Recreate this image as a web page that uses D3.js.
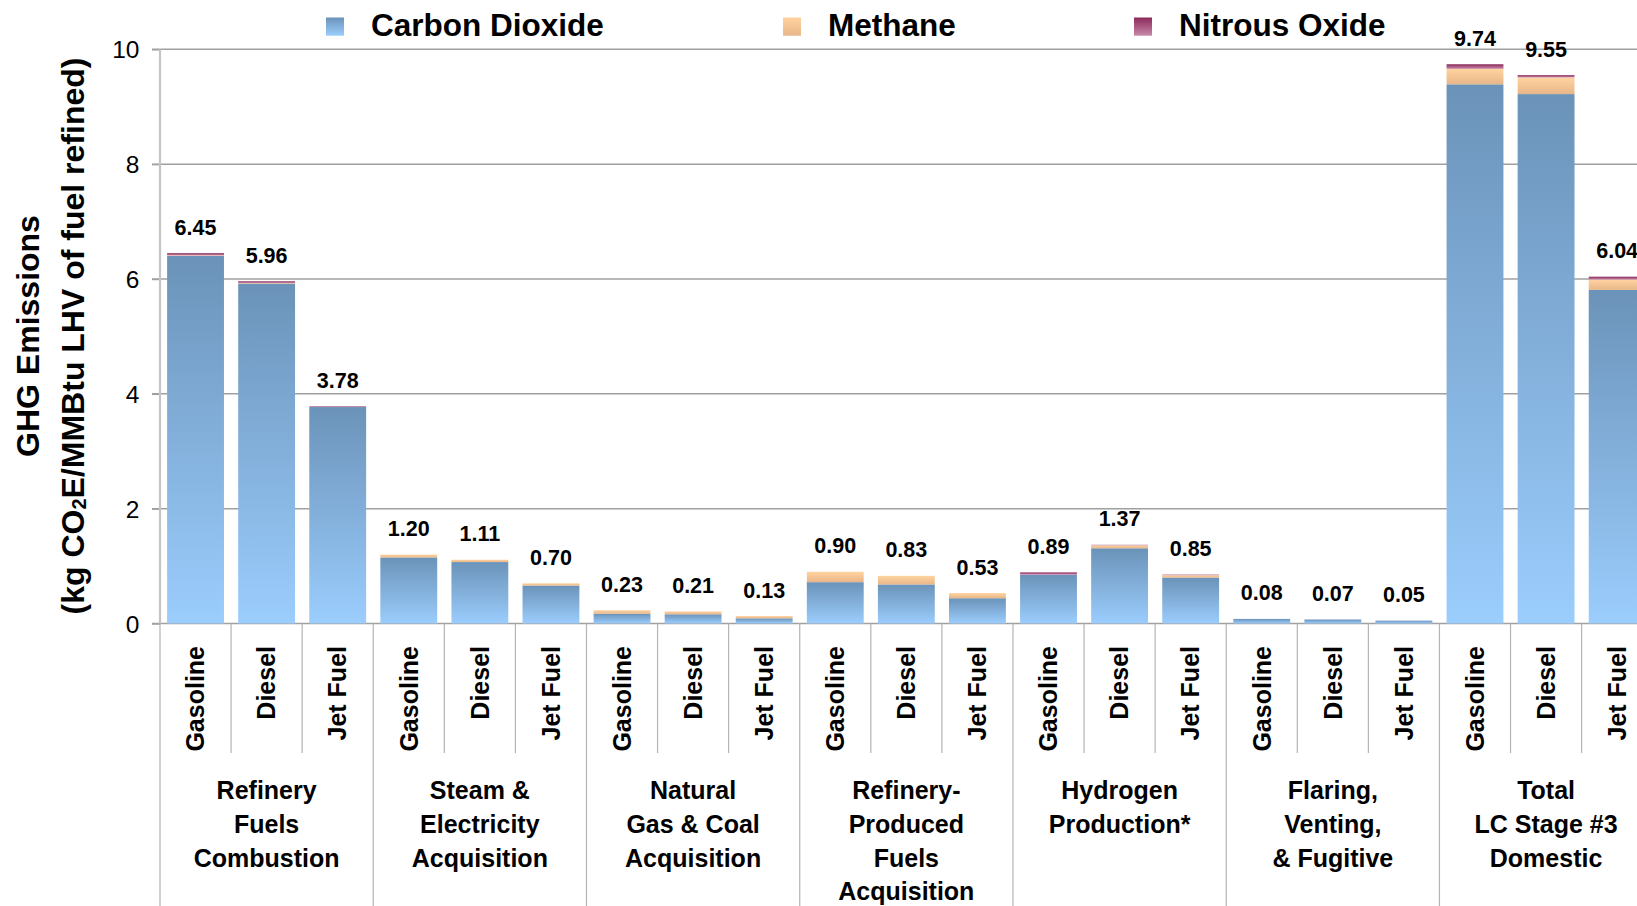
<!DOCTYPE html>
<html>
<head>
<meta charset="utf-8">
<script src="https://cdn.jsdelivr.net/npm/d3@7"></script>
<style>
  html, body { margin: 0; padding: 0; background: #fff; overflow: hidden; }
  svg { display: block; font-family: "Liberation Sans", Arial, sans-serif; }
</style>
</head>
<body>
<svg id="chart" width="1637" height="906"></svg>
<script>
// ---- data ----
const groups = [
  ["Refinery", "Fuels", "Combustion"],
  ["Steam &", "Electricity", "Acquisition"],
  ["Natural", "Gas & Coal", "Acquisition"],
  ["Refinery-", "Produced", "Fuels", "Acquisition"],
  ["Hydrogen", "Production*"],
  ["Flaring,", "Venting,", "& Fugitive"],
  ["Total", "LC Stage #3", "Domestic"]
];
const fuels = ["Gasoline", "Diesel", "Jet Fuel"];
const seriesNames = ["Carbon Dioxide", "Methane", "Nitrous Oxide"];
const co2 = [6.40, 5.92, 3.77, 1.15, 1.07, 0.66, 0.17, 0.16, 0.09, 0.72, 0.68, 0.44, 0.85, 1.31, 0.80, 0.08, 0.07, 0.05, 9.39, 9.22, 5.81];
const ch4 = [0.01, 0.01, 0.00, 0.05, 0.04, 0.04, 0.06, 0.05, 0.04, 0.18, 0.15, 0.09, 0.00, 0.05, 0.04, 0.00, 0.00, 0.00, 0.27, 0.29, 0.18];
const n2o = [0.04, 0.03, 0.01, 0.00, 0.00, 0.00, 0.00, 0.00, 0.00, 0.00, 0.00, 0.00, 0.04, 0.01, 0.01, 0.00, 0.00, 0.00, 0.08, 0.04, 0.05];
const totalLabels = ["6.45", "5.96", "3.78", "1.20", "1.11", "0.70", "0.23", "0.21", "0.13", "0.90", "0.83", "0.53", "0.89", "1.37", "0.85", "0.08", "0.07", "0.05", "9.74", "9.55", "6.04"];
const yTicks = [0, 2, 4, 6, 8, 10];

// ---- layout ----
const svg = d3.select("#chart");
const x0 = 160, xEnd = 1652.7, yTop = 49.3, yBase = 623.5;

const table = co2.map((c, i) => ({
  id: i,
  group: Math.floor(i / 3),
  fuel: fuels[i % 3],
  "Carbon Dioxide": c,
  "Methane": ch4[i],
  "Nitrous Oxide": n2o[i],
  label: totalLabels[i]
}));

const x = d3.scaleBand().domain(table.map(d => d.id)).range([x0, xEnd]).paddingInner(0.2).paddingOuter(0.1);
const y = d3.scaleLinear().domain([0, 10]).range([yBase, yTop]);
const step = x.step();

// gradients
const defs = svg.append("defs");
const grads = {
  "Carbon Dioxide": ["#6b93b9", "#9bcdfd"],
  "Methane": ["#ffd3a0", "#e8b689"],
  "Nitrous Oxide": ["#8a2a5a", "#c988aa"]
};
seriesNames.forEach((k, i) => {
  const g = defs.append("linearGradient").attr("id", "g" + i)
    .attr("x1", 0).attr("y1", 0).attr("x2", 0).attr("y2", 1);
  g.append("stop").attr("offset", "0%").attr("stop-color", grads[k][0]);
  g.append("stop").attr("offset", "100%").attr("stop-color", grads[k][1]);
});

// gridlines
svg.append("g").selectAll("line").data(yTicks.filter(t => t > 0)).join("line")
  .attr("x1", x0 - 8).attr("x2", 1637).attr("y1", d => y(d)).attr("y2", d => y(d))
  .attr("stroke", "#a0a0a0").attr("stroke-width", 1.5);

// y axis
const yAxis = d3.axisLeft(y).tickValues(yTicks).tickSize(8).tickPadding(12).tickFormat(d3.format("d"));
const ya = svg.append("g").attr("transform", `translate(${x0},0)`).call(yAxis);
ya.select(".domain").remove();
ya.selectAll(".tick line").attr("stroke", "#a0a0a0").attr("stroke-width", 1.5);
ya.selectAll(".tick text").attr("font-size", 24.5).attr("fill", "#000")
  .attr("font-family", "Liberation Sans, Arial, sans-serif").attr("dy", "0.35em").attr("x", -20.5);

// x baseline
svg.append("line").attr("x1", x0 - 8).attr("x2", 1637).attr("y1", yBase).attr("y2", yBase)
  .attr("stroke", "#a0a0a0").attr("stroke-width", 1.5);

// category separators
const bounds = d3.range(0, 22);
svg.append("g").selectAll("line").data(bounds).join("line")
  .attr("x1", i => x0 + i * step).attr("x2", i => x0 + i * step)
  .attr("y1", yBase).attr("y2", i => (i % 3 === 0) ? 906 : 753)
  .attr("stroke", "#b4b4b4").attr("stroke-width", 1.2);

// y axis line
svg.append("line").attr("x1", x0).attr("x2", x0).attr("y1", yTop).attr("y2", yBase)
  .attr("stroke", "#c4c4c4").attr("stroke-width", 2.2);

// stacked bars
const stack = d3.stack().keys(seriesNames);
const layers = stack(table);
svg.append("g").selectAll("g").data(layers).join("g")
  .attr("fill", (d, i) => `url(#g${i})`)
  .selectAll("rect").data(d => d.filter(s => s[1] - s[0] > 0)).join("rect")
  .attr("x", d => x(d.data.id))
  .attr("width", x.bandwidth())
  .attr("y", d => y(d[1]))
  .attr("height", d => y(d[0]) - y(d[1]));

// value labels
svg.append("g").selectAll("text").data(table).join("text")
  .attr("x", d => x(d.id) + x.bandwidth() / 2)
  .attr("y", d => y(d["Carbon Dioxide"] + d["Methane"] + d["Nitrous Oxide"]) - 18.5)
  .attr("text-anchor", "middle").attr("font-weight", "bold").attr("font-size", 21.5)
  .attr("fill", "#000").text(d => d.label);

// fuel labels (rotated)
svg.append("g").selectAll("text").data(table).join("text")
  .attr("transform", d => `translate(${x(d.id) + x.bandwidth() / 2},646) rotate(-90)`)
  .attr("text-anchor", "end").attr("dy", "0.35em")
  .attr("font-weight", "bold").attr("font-size", 25).attr("fill", "#000")
  .text(d => d.fuel);

// group labels
const gl = svg.append("g").selectAll("text").data(groups).join("text")
  .attr("text-anchor", "middle").attr("font-weight", "bold").attr("font-size", 25).attr("fill", "#000");
gl.each(function(lines, gi) {
  const cx = x0 + (gi * 3 + 1.5) * step;
  d3.select(this).selectAll("tspan").data(lines).join("tspan")
    .attr("x", cx).attr("y", (l, li) => 799.3 + li * 33.6).text(l => l);
});

// y title
const yTitleG = svg.append("g").attr("font-weight", "bold").attr("font-size", 32).attr("fill", "#000");
yTitleG.append("text").attr("transform", "translate(38.5,336) rotate(-90)")
  .attr("text-anchor", "middle").text("GHG Emissions");
const t2 = yTitleG.append("text").attr("transform", "translate(83.5,336) rotate(-90)")
  .attr("text-anchor", "middle");
t2.append("tspan").text("(kg CO");
t2.append("tspan").attr("font-size", 20).attr("dy", 2).text("2");
t2.append("tspan").attr("dy", -2).text("E/MMBtu LHV of fuel refined)");

// legend
const legendX = [326, 783, 1134];
const lg = svg.append("g").selectAll("g").data(seriesNames).join("g")
  .attr("transform", (d, i) => `translate(${legendX[i]},0)`);
lg.append("rect").attr("x", 0).attr("y", 17.5).attr("width", 18).attr("height", 18.2)
  .attr("fill", (d, i) => `url(#g${i})`);
lg.append("text").attr("x", 45).attr("y", 36).attr("font-weight", "bold").attr("font-size", 31.5)
  .attr("fill", "#000").text(d => d);
</script>
</body>
</html>
